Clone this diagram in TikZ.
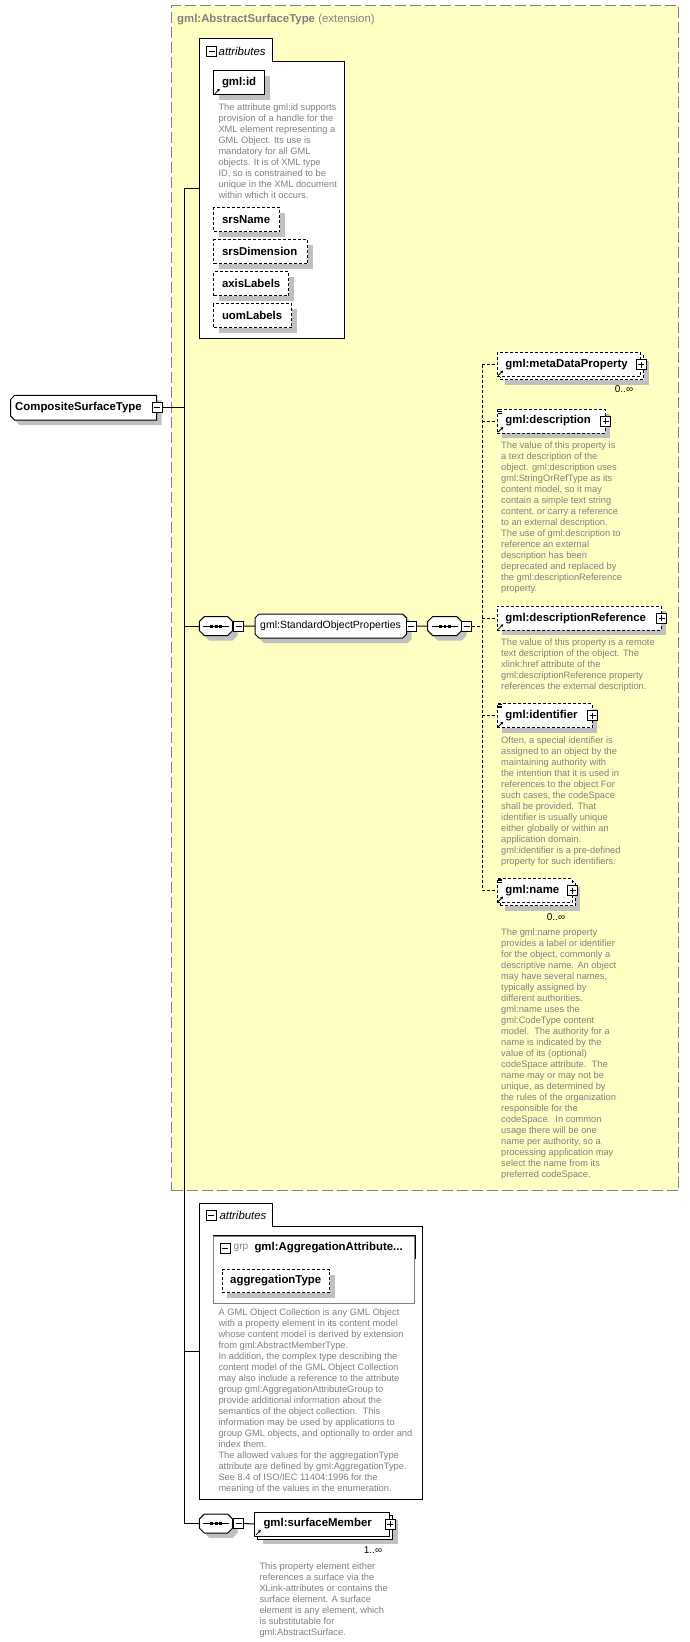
\documentclass[tikz,border=0pt]{standalone}
\usepackage{fontspec}
\setmainfont{Liberation Sans}
\usetikzlibrary{shadows,arrows.meta,calc}

\definecolor{extyellow}{RGB}{255,255,196}
\definecolor{extborder}{RGB}{128,128,128}
\definecolor{shadowc}{RGB}{192,192,192}
\definecolor{desccol}{RGB}{128,128,128}

\newcommand\lblfont{\bfseries\fontsize{11.4}{13}\selectfont}
\newcommand\descfont{\fontsize{9.3}{11}\selectfont}

\tikzset{
  shad/.style={drop shadow={shadow xshift=5pt,shadow yshift=-5pt,fill=shadowc,opacity=1}},
  boxbase/.style={draw=black,line width=1pt,fill=white,inner sep=0pt,minimum height=24pt,anchor=north west},
  elembox/.style={boxbase,shad},
  optbox/.style={elembox,dash pattern=on 3pt off 2pt},
  optflat/.style={boxbase,dash pattern=on 3pt off 2pt},
  lbl/.style={font=\lblfont,inner sep=0pt,anchor=west},
  desc/.style={font=\descfont,text=desccol,inner sep=0pt,anchor=north west,align=left},
  pmbox/.style={draw=black,fill=white,line width=1pt,minimum size=10pt,inner sep=0pt},
  minusbox/.style={pmbox,path picture={\draw[black,line width=1pt] ([xshift=2pt]path picture bounding box.west) -- ([xshift=-2pt]path picture bounding box.east);}},
  plusbox/.style={pmbox,path picture={\draw[black,line width=1pt] ([xshift=2pt]path picture bounding box.west) -- ([xshift=-2pt]path picture bounding box.east) ([yshift=2pt]path picture bounding box.south) -- ([yshift=-2pt]path picture bounding box.north);}},
  tabminus/.style={minusbox,line width=1.4pt},
  tabtext/.style={font=\itshape\fontsize{11.4}{13}\selectfont,inner sep=0pt,anchor=west},
  conn/.style={draw=black,line width=1pt},
  optconn/.style={conn,dash pattern=on 3pt off 2pt},
  card/.style={font=\fontsize{10}{12}\selectfont,inner sep=0pt},
  refarr/.style={line width=0.8pt,-{Triangle[length=2.6pt,width=2.8pt]}},
  hook/.style={inner sep=0pt,anchor=north west}
}

\newcommand\chpathd[7]{\path[#7] ({#1+#5},#2) -- ({#3-#6},#2) -- (#3,{#2+#6}) -- (#3,{#4-#6}) -- ({#3-#6},#4) -- ({#1+#5},#4) -- (#1,{#4-#5}) -- (#1,{#2+#5}) -- cycle;}
\newcommand\chshape[6]{\chpathd{#1}{#2}{#3}{#4}{#5}{#6}{fill=shadowc,shift={(5,5)}}\chpathd{#1}{#2}{#3}{#4}{#5}{#6}{fill=white,draw=black,line width=1pt}}
\newcommand\seqdots[1]{\draw[line width=1pt] ([xshift=4pt]#1.west) -- ([xshift=-4pt]#1.east);
  \foreach \dx in {-4.5,0,4.5}{\fill ([xshift=\dx pt]#1.center) ++(-1.4pt,-1.4pt) rectangle ++(2.8pt,2.8pt);}}
\newcommand\refmark[1]{\draw[refarr] ([shift={(1.5pt,1.5pt)}]#1.south west) -- ++(5pt,5pt);}
\newcommand\simpleicon[1]{\foreach \dy in {1,2.7,4.4}{\draw[line width=0.6pt] ($(#1.north west)+(1,\dy)$) -- ++(4.5,0);}}

\begin{document}
\begin{tikzpicture}[x=1pt,y=-1pt]
\useasboundingbox (0,0) rectangle (689,1642);
\fill[white] (0,0) rectangle (689,1642);

% ---------- extension box ----------
\node[draw=extborder,fill=extyellow,line width=1pt,dash pattern=on 11pt off 4pt,inner sep=0pt,
      minimum width=507pt,minimum height=1185pt,anchor=north west] (ext) at (171,5) {};
\node[anchor=west,inner sep=0pt,text=extborder,font=\fontsize{11.4}{13}\selectfont] (extT) at (177,20)
  {\textbf{gml:AbstractSurfaceType} (extension)};

\coordinate (bus) at (184,0);
\coordinate (dbus) at (482,0);

% ---------- attributes box 1 ----------
\draw[line width=1pt,fill=white] (199.3,338.3) -- (199.3,38.3) -- (272,38.3) -- (272,61.3) -- (344.3,61.3) -- (344.3,338.3) -- cycle;
\node[hook,minimum width=145pt,minimum height=300pt] (attr1) at (199.3,38.3) {};
\node[tabminus] (attr1m) at (211.7,51.3) {};
\node[tabtext] (attr1T) at (218.5,51.3) {attributes};

\node[elembox,minimum width=51pt] (id) at (213.3,70.3) {};
\node[lbl] (idT) at ([xshift=8.5pt]id.west) {gml:id};
\refmark{id}
\node[desc] (idD) at (218.3,103.2) {The attribute gml:id supports\\provision of a handle for the\\XML element representing a\\GML Object. Its use is\\mandatory for all GML\\objects. It is of XML type\\ID, so is constrained to be\\unique in the XML document\\within which it occurs.};

\node[optbox,minimum width=66pt] (srsN) at (213.3,207) {};
\node[lbl] (srsNT) at ([xshift=8.5pt]srsN.west) {srsName};
\node[optbox,minimum width=94pt] (srsD) at (213.3,239) {};
\node[lbl] (srsDT) at ([xshift=8.5pt]srsD.west) {srsDimension};
\node[optbox,minimum width=75pt] (axisL) at (213.3,271) {};
\node[lbl] (axisLT) at ([xshift=8.5pt]axisL.west) {axisLabels};
\node[optbox,minimum width=78pt] (uomL) at (213.3,303) {};
\node[lbl] (uomLT) at ([xshift=8.5pt]uomL.west) {uomLabels};

% ---------- root ----------
\chshape{10.7}{395.3}{156.7}{420}{4}{0}
\node[hook,minimum width=146pt,minimum height=24.7pt] (root) at (10.7,395.3) {};
\node[lbl] (rootT) at ([xshift=4.3pt]root.west) {CompositeSurfaceType};
\node[minusbox] (rootm) at (root.east) {};

% ---------- sequence 1 and group ----------
\chshape{199.3}{616.5}{232.7}{635.5}{5}{5}
\node[hook,minimum width=33.4pt,minimum height=19pt] (seq1) at (199.3,616.5) {};
\seqdots{seq1}
\node[minusbox] (seq1m) at (238.7,626) {};

\chshape{255}{614}{406.7}{638}{4}{4}
\node[hook,minimum width=151.7pt,minimum height=24pt] (sop) at (255,614) {};
\node[anchor=west,inner sep=0pt,font=\fontsize{10.5}{12}\selectfont] (sopT) at ([xshift=5pt]sop.west) {gml:StandardObjectProperties};
\node[minusbox] (sopm) at (411,626) {};

\chshape{427.7}{616.5}{461.7}{635.5}{5}{5}
\node[hook,minimum width=34pt,minimum height=19pt] (seq2) at (427.7,616.5) {};
\seqdots{seq2}
\node[minusbox] (seq2m) at (466.7,626) {};

% ---------- standard object properties elements ----------
\node[optbox,minimum width=143.3pt] (mdB) at (499.7,355) {};
\node[optflat,minimum width=143.3pt] (md) at (496.7,352) {};
\node[lbl] (mdT) at ([xshift=8.5pt]md.west) {gml:metaDataProperty};
\node[plusbox] (mdP) at (md.east) {};
\refmark{md}
\node[card] (mdC) at (624,389) {0..∞};

\node[optbox,minimum width=108pt] (descr) at (496.7,408.5) {};
\node[lbl] (descrT) at ([xshift=8.5pt]descr.west) {gml:description};
\node[plusbox] (descrP) at (descr.east) {};
\refmark{descr}
\simpleicon{descr}
\node[desc] (descrD) at (501,441.5) {The value of this property is\\a text description of the\\object. gml:description uses\\gml:StringOrRefType as its\\content model, so it may\\contain a simple text string\\content, or carry a reference\\to an external description.\\The use of gml:description to\\reference an external\\description has been\\deprecated and replaced by\\the gml:descriptionReference\\property.};

\node[optbox,minimum width=164pt] (dref) at (496.7,605.7) {};
\node[lbl] (drefT) at ([xshift=8.5pt]dref.west) {gml:descriptionReference};
\node[plusbox] (drefP) at (dref.east) {};
\refmark{dref}
\node[desc] (drefD) at (501,638.2) {The value of this property is a remote\\text description of the object. The\\xlink:href attribute of the\\gml:descriptionReference property\\references the external description.};

\node[optbox,minimum width=95pt] (ident) at (496.7,703.3) {};
\node[lbl] (identT) at ([xshift=8.5pt]ident.west) {gml:identifier};
\node[plusbox] (identP) at (ident.east) {};
\refmark{ident}
\simpleicon{ident}
\node[desc] (identD) at (501,736.5) {Often, a special identifier is\\assigned to an object by the\\maintaining authority with\\the intention that it is used in\\references to the object For\\such cases, the codeSpace\\shall be provided. That\\identifier is usually unique\\either globally or within an\\application domain.\\gml:identifier is a pre-defined\\property for such identifiers.};

\node[optbox,minimum width=75pt] (nmB) at (499.7,881) {};
\node[optflat,minimum width=75pt] (nm) at (496.7,878) {};
\node[lbl] (nmT) at ([xshift=8.5pt]nm.west) {gml:name};
\node[plusbox] (nmP) at (nm.east) {};
\refmark{nm}
\simpleicon{nm}
\node[card] (nmC) at (556,916.7) {0..∞};
\node[desc] (nmD) at (501,928.2) {The gml:name property\\provides a label or identifier\\for the object, commonly a\\descriptive name. An object\\may have several names,\\typically assigned by\\different authorities.\\gml:name uses the\\gml:CodeType content\\model.\ \ The authority for a\\name is indicated by the\\value of its (optional)\\codeSpace attribute.\ \ The\\name may or may not be\\unique, as determined by\\the rules of the organization\\responsible for the\\codeSpace.\ \ In common\\usage there will be one\\name per authority, so a\\processing application may\\select the name from its\\preferred codeSpace.};

% ---------- attributes box 2 ----------
\draw[line width=1pt,fill=white] (199.3,1499) -- (199.3,1203.3) -- (272.3,1203.3) -- (272.3,1226) -- (422.3,1226) -- (422.3,1499) -- cycle;
\node[hook,minimum width=223pt,minimum height=295.7pt] (attr2) at (199.3,1203.3) {};
\node[tabminus] (attr2m) at (211.3,1215.7) {};
\node[tabtext] (attr2T) at (219.3,1215.7) {attributes};

\node[hook,draw=extborder,line width=1pt,fill=white,minimum width=201pt,minimum height=67.6pt] (grp) at (213.3,1235.7) {};
\draw[line width=1pt] (grp.north west) -- (grp.north east) -- ($(grp.north east)+(0,23.3)$);
\node[minusbox] (grpm) at (225.3,1248.3) {};
\node[anchor=west,inner sep=0pt,text=desccol,font=\fontsize{10}{12}\selectfont] (grpK) at (233.5,1247.5) {grp};
\node[lbl] (grpT) at (254.3,1247.5) {gml:AggregationAttribute...};

\node[optbox,minimum width=107.3pt,minimum height=23pt] (aggT) at (221.7,1269) {};
\node[lbl] (aggTT) at ([xshift=8.3pt]aggT.west) {aggregationType};

\node[desc] (grpD) at (218.3,1308.2) {A GML Object Collection is any GML Object\\with a property element in its content model\\whose content model is derived by extension\\from gml:AbstractMemberType.\\In addition, the complex type describing the\\content model of the GML Object Collection\\may also include a reference to the attribute\\group gml:AggregationAttributeGroup to\\provide additional information about the\\semantics of the object collection.\ \ This\\information may be used by applications to\\group GML objects, and optionally to order and\\index them.\\The allowed values for the aggregationType\\attribute are defined by gml:AggregationType.\\See 8.4 of ISO/IEC 11404:1996 for the\\meaning of the values in the enumeration.};

% ---------- sequence 3 and surfaceMember ----------
\chshape{199.3}{1514}{232.7}{1533}{5}{5}
\node[hook,minimum width=33.4pt,minimum height=19pt] (seq3) at (199.3,1514) {};
\seqdots{seq3}
\node[minusbox] (seq3m) at (238.7,1523.5) {};

\node[elembox,minimum width=135pt] (smB) at (257.3,1514.5) {};
\node[boxbase,minimum width=135pt] (sm) at (254.3,1511.5) {};
\node[lbl] (smT) at ([xshift=9pt]sm.west) {gml:surfaceMember};
\node[plusbox] (smP) at (sm.east) {};
\refmark{sm}
\node[card] (smC) at (373,1550) {1..∞};
\node[desc] (smD) at (259.3,1562.5) {This property element either\\references a surface via the\\XLink-attributes or contains the\\surface element. A surface\\element is any element, which\\is substitutable for\\gml:AbstractSurface.};

% ---------- connectors ----------
\draw[conn] (rootm.east) -- (rootm.east -| bus);
\draw[conn] (attr1.west -| bus) -- (seq3.west -| bus);
\draw[conn] (attr1.west -| bus) -- (attr1.west);
\draw[conn] (seq1.west -| bus) -- (seq1.west);
\draw[conn] (attr2.west -| bus) -- (attr2.west);
\draw[conn] (seq3.west -| bus) -- (seq3.west);
\draw[conn] (seq1m.east) -- (sop.west);
\draw[conn] (sopm.east) -- (seq2.west);
\draw[conn] (seq3m.east) -- (sm.west);
\draw[optconn] (seq2m.east) -- (seq2m.east -| dbus);
\draw[optconn] (md.west -| dbus) -- (nm.west -| dbus);
\draw[optconn] (md.west -| dbus) -- (md.west);
\draw[optconn] (descr.west -| dbus) -- (descr.west);
\draw[optconn] (dref.west -| dbus) -- (dref.west);
\draw[optconn] (ident.west -| dbus) -- (ident.west);
\draw[optconn] (nm.west -| dbus) -- (nm.west);
\end{tikzpicture}
\end{document}
